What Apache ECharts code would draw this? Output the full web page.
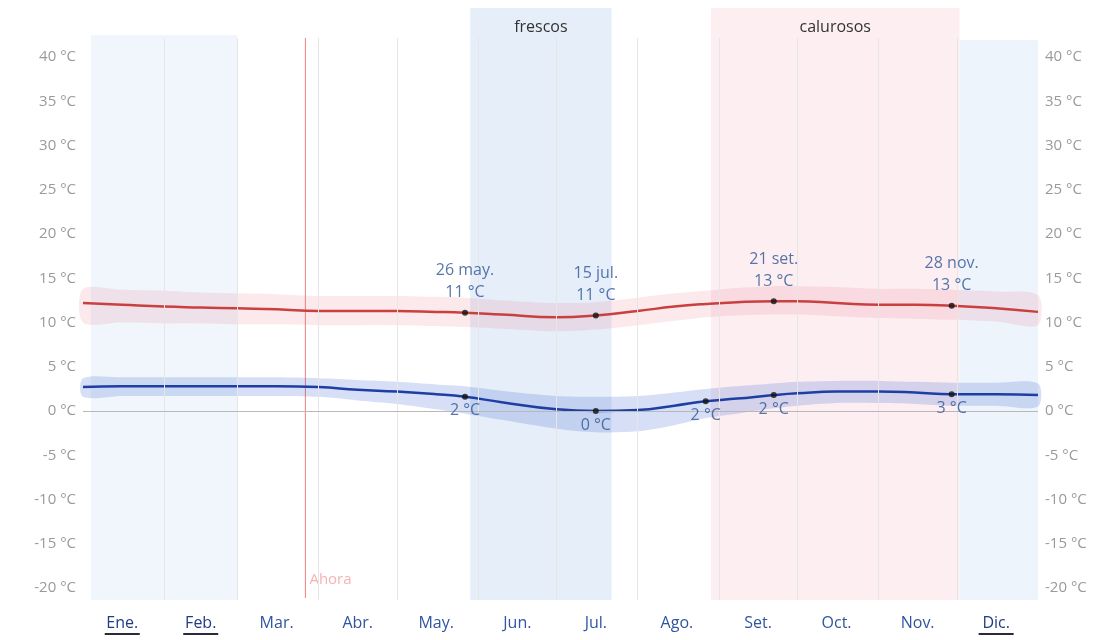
<!DOCTYPE html>
<html>
<head>
<meta charset="utf-8">
<style>
    html, body { margin: 0; padding: 0; background: #fff; }
    #chart { width: 1114px; height: 640px; }
</style>
<script src="https://cdn.jsdelivr.net/npm/echarts@6/dist/echarts.min.js"></script>
</head>
<body>
<div id="chart"></div>
<script>
    // eje x: día del año (0..365)
    const months = ['Ene.', 'Feb.', 'Mar.', 'Abr.', 'May.', 'Jun.', 'Jul.', 'Ago.', 'Set.', 'Oct.', 'Nov.', 'Dic.'];
    const monthMid = [15, 45, 74, 105, 135, 166, 196, 227, 258, 288, 319, 349];
    const monthStart = [31, 59, 90, 120, 151, 181, 212, 243, 273, 304, 334];
    const underlined = ['Ene.', 'Feb.', 'Dic.'];

    const days = [0, 15, 31, 45, 59, 74, 90, 105, 120, 135, 146, 160, 181, 196, 212, 226, 238, 250, 264, 273, 288, 304, 318, 332, 349, 365];
    const maxTemp = [12.2, 12.0, 11.8, 11.7, 11.6, 11.5, 11.3, 11.3, 11.3, 11.2, 11.1, 10.9, 10.6, 10.8, 11.3, 11.8, 12.1, 12.3, 12.4, 12.4, 12.2, 12.0, 12.0, 11.9, 11.6, 11.2];
    const maxHi = [13.8, 13.7, 13.6, 13.4, 13.3, 13.2, 13.0, 13.0, 13.0, 12.9, 12.8, 12.5, 12.2, 12.3, 12.8, 13.3, 13.6, 13.9, 14.1, 14.1, 14.0, 13.8, 13.8, 13.7, 13.5, 13.1];
    const maxLo = [10.0, 10.0, 9.9, 9.9, 9.8, 9.8, 9.7, 9.7, 9.7, 9.6, 9.5, 9.3, 9.0, 9.2, 9.7, 10.2, 10.6, 10.8, 10.9, 10.9, 10.7, 10.5, 10.4, 10.3, 10.1, 9.7];
    const minTemp = [2.7, 2.8, 2.8, 2.8, 2.8, 2.8, 2.7, 2.4, 2.2, 1.9, 1.6, 1.0, 0.2, 0.0, 0.1, 0.6, 1.1, 1.4, 1.8, 2.0, 2.2, 2.2, 2.1, 1.9, 1.9, 1.8];
    const minHi = [3.7, 3.8, 3.8, 3.8, 3.8, 3.8, 3.7, 3.5, 3.3, 3.0, 2.8, 2.3, 1.7, 1.6, 1.7, 2.1, 2.5, 2.8, 3.1, 3.3, 3.4, 3.4, 3.3, 3.2, 3.2, 3.1];
    const minLo = [1.6, 1.7, 1.7, 1.7, 1.7, 1.7, 1.6, 1.2, 0.8, 0.2, -0.3, -1.0, -2.0, -2.4, -2.3, -1.6, -0.8, -0.3, 0.3, 0.6, 0.9, 0.9, 0.8, 0.6, 0.6, 0.5];

    // puntos destacados
    const maxDays = [146, 196, 264, 332];
    const maxVals = [11.1, 10.8, 12.4, 11.9];
    const maxDates = ['26 may.', '15 jul.', '21 set.', '28 nov.'];
    const maxText = ['11 °C', '11 °C', '13 °C', '13 °C'];
    const minDays = [146, 196, 238, 264, 332];
    const minVals = [1.6, 0.0, 1.1, 1.8, 1.9];
    const minText = ['2 °C', '0 °C', '2 °C', '2 °C', '3 °C'];

    // franjas de fondo
    const bandNames = ['', 'frescos', 'calurosos', ''];
    const bandStart = [3, 148, 240, 335];
    const bandEnd = [59, 202, 335, 365];
    const bandTop = [35, 8, 8, 40];
    const bandColors = ['#f1f6fc', '#e6eef9', '#fdeef2', '#edf4fc'];
    const nowDay = 85;

    const chart = echarts.init(document.getElementById('chart'));

    const pairs = (ys) => days.map((d, i) => [d, ys[i]]);

    function bandSeries(hi, lo, color) {
        return {
            type: 'custom',
            xAxisIndex: 0,
            yAxisIndex: 0,
            z: 2,
            silent: true,
            clip: false,
            data: [[0, 0]],
            renderItem: function (params, api) {
                let pts = [];
                days.forEach((d, i) => pts.push(api.coord([d, hi[i]])));
                for (let i = days.length - 1; i >= 0; i--) {
                    pts.push(api.coord([days[i], lo[i]]));
                }
                return {
                    type: 'polygon',
                    shape: {points: pts, smooth: 0.3},
                    style: {fill: color}
                };
            }
        };
    }

    const axisText = {color: '#9a9a9a', fontSize: 15, fontFamily: 'Open Sans'};
    const annColor = '#2d5596';

    const option = {
        animation: false,
        backgroundColor: '#fff',
        grid: [
            {left: 83, right: 76, top: 57, bottom: 52},
            {left: 83, right: 76, top: 0, bottom: 0}
        ],
        xAxis: [
            {
                type: 'value', gridIndex: 0, min: 0, max: 365,
                axisLine: {show: false}, axisTick: {show: false}, splitLine: {show: false},
                axisLabel: {
                    customValues: monthMid,
                    margin: 26,
                    formatter: function (v) {
                        const m = months[monthMid.indexOf(v)];
                        if (underlined.indexOf(m) >= 0) {
                            return '{d|' + m + '}\n{u|}';
                        }
                        return '{m|' + m + '}';
                    },
                    rich: {
                        m: {color: '#2f55a0', fontSize: 16, fontFamily: 'Open Sans', lineHeight: 19},
                        d: {color: '#1f3d80', fontSize: 16, fontFamily: 'Open Sans', lineHeight: 19},
                        u: {width: 35, height: 2, backgroundColor: '#2a2a3a'}
                    }
                }
            },
            {type: 'value', gridIndex: 1, min: 0, max: 365, show: false}
        ],
        yAxis: [
            {
                type: 'value', gridIndex: 0, min: -20, max: 40, interval: 5, position: 'left',
                axisLine: {show: false}, axisTick: {show: false}, splitLine: {show: false},
                axisLabel: Object.assign({formatter: '{value} °C', margin: 7}, axisText)
            },
            {
                type: 'value', gridIndex: 0, min: -20, max: 40, interval: 5, position: 'right',
                axisLine: {show: false}, axisTick: {show: false}, splitLine: {show: false},
                axisLabel: Object.assign({formatter: '{value} °C', margin: 7}, axisText)
            },
            {type: 'value', gridIndex: 1, min: 0, max: 640, inverse: true, show: false}
        ],
        series: [
            {
                // franjas y líneas de meses
                type: 'line',
                xAxisIndex: 1,
                yAxisIndex: 2,
                z: 0,
                silent: true,
                data: [],
                markArea: {
                    silent: true,
                    data: bandNames.map((name, i) => [
                        {
                            coord: [bandStart[i], bandTop[i]],
                            itemStyle: {color: bandColors[i]},
                            label: {
                                show: name !== '', position: 'insideTop', distance: 11,
                                formatter: name, color: '#333', fontSize: 16, fontFamily: 'Open Sans'
                            }
                        },
                        {coord: [bandEnd[i], 600]}
                    ])
                },
                markLine: {
                    silent: true,
                    symbol: 'none',
                    label: {show: false},
                    lineStyle: {color: '#e6e6e6', width: 1, type: 'solid'},
                    data: monthStart.map(d => [{coord: [d, 38]}, {coord: [d, 600]}])
                }
            },
            {
                // línea "Ahora"
                type: 'line',
                xAxisIndex: 1,
                yAxisIndex: 2,
                z: 1,
                silent: true,
                showSymbol: false,
                color: '#f07f7f',
                lineStyle: {color: '#f07f7f', width: 1},
                data: [[nowDay, 38], [nowDay, 598]],
                label: {show: false}
            },
            {
                type: 'scatter',
                xAxisIndex: 1,
                yAxisIndex: 2,
                z: 1,
                symbolSize: 0,
                silent: true,
                data: [[nowDay, 580]],
                label: {
                    show: true, position: 'right', distance: 4, formatter: 'Ahora',
                    color: '#f3a0a0', fontSize: 15, fontFamily: 'Open Sans'
                }
            },
            bandSeries(maxHi, maxLo, 'rgba(232, 120, 135, 0.16)'),
            bandSeries(minHi, minLo, 'rgba(70, 110, 210, 0.22)'),
            {
                name: 'máx',
                type: 'line',
                smooth: true,
                showSymbol: false,
                z: 3,
                data: pairs(maxTemp),
                lineStyle: {color: '#c8413f', width: 2.5}
            },
            {
                name: 'mín',
                type: 'line',
                smooth: true,
                showSymbol: false,
                z: 3,
                data: pairs(minTemp),
                lineStyle: {color: '#1f3ea3', width: 2.5},
                markLine: {
                    silent: true,
                    symbol: 'none',
                    label: {show: false},
                    lineStyle: {color: '#b8b8b8', width: 1, type: 'solid'},
                    data: [{yAxis: 0}]
                }
            },
            {
                type: 'scatter',
                z: 5,
                symbolSize: 6,
                itemStyle: {color: '#111'},
                data: maxDays.map((d, i) => [d, maxVals[i]]),
                label: {
                    show: true, position: 'top', distance: 6,
                    formatter: p => maxDates[p.dataIndex] + '\n' + maxText[p.dataIndex],
                    color: annColor, fontSize: 16, lineHeight: 22, fontFamily: 'Open Sans'
                }
            },
            {
                type: 'scatter',
                z: 5,
                symbolSize: 6,
                itemStyle: {color: '#111'},
                data: minDays.map((d, i) => [d, minVals[i]]),
                label: {
                    show: true, position: 'bottom', distance: 3,
                    formatter: p => minText[p.dataIndex],
                    color: annColor, fontSize: 16, fontFamily: 'Open Sans'
                }
            }
        ]
    };

    chart.setOption(option);
</script>
</body>
</html>
